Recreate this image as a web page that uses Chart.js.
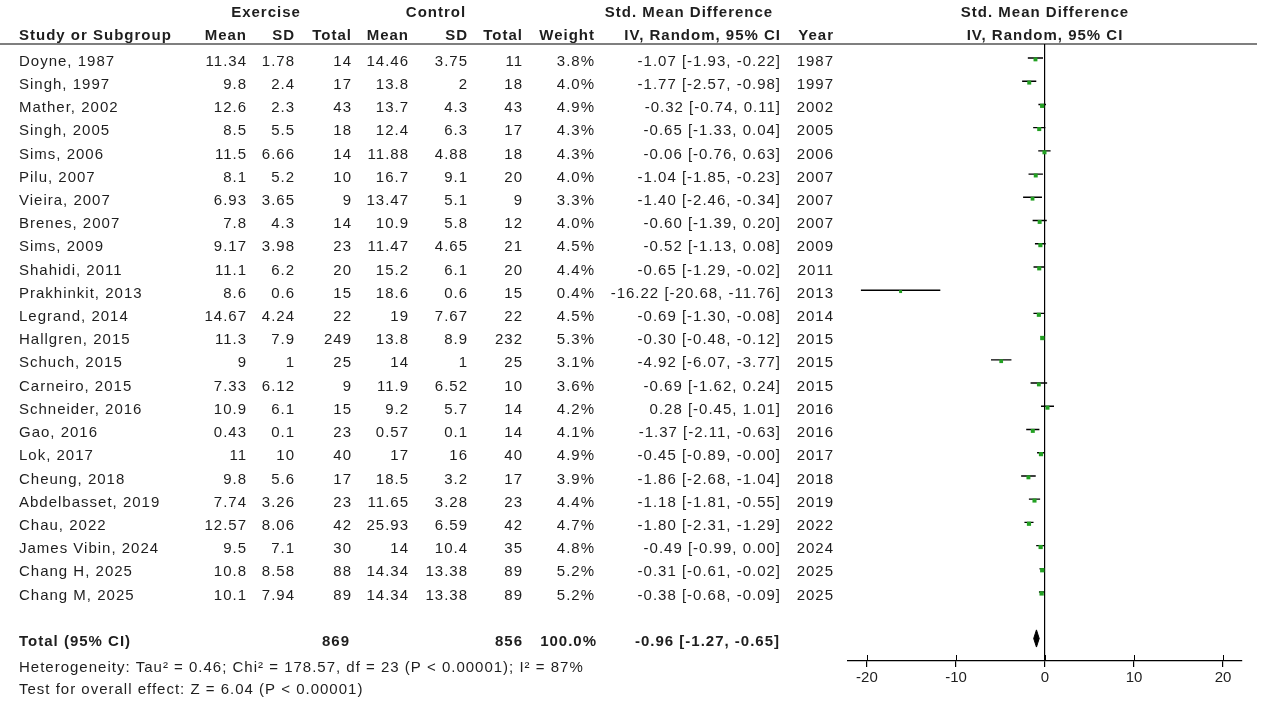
<!DOCTYPE html>
<html>
<head>
<meta charset="utf-8">
<title>Forest plot - Exercise vs Control</title>
<script src="https://cdn.jsdelivr.net/npm/chart.js@4.4.1/dist/chart.umd.min.js"></script>
<style>
  html, body { margin: 0; padding: 0; background: #fff; }
  #wrap { width: 1264px; height: 704px; position: relative; }
</style>
</head>
<body>
<div id="wrap"><canvas id="forest" width="1264" height="704"></canvas></div>
<script>
// study data
const studies = ['Doyne, 1987', 'Singh, 1997', 'Mather, 2002', 'Singh, 2005', 'Sims, 2006', 'Pilu, 2007',
  'Vieira, 2007', 'Brenes, 2007', 'Sims, 2009', 'Shahidi, 2011', 'Prakhinkit, 2013', 'Legrand, 2014',
  'Hallgren, 2015', 'Schuch, 2015', 'Carneiro, 2015', 'Schneider, 2016', 'Gao, 2016', 'Lok, 2017',
  'Cheung, 2018', 'Abdelbasset, 2019', 'Chau, 2022', 'James Vibin, 2024', 'Chang H, 2025', 'Chang M, 2025'];
const exMean = [11.34, 9.8, 12.6, 8.5, 11.5, 8.1, 6.93, 7.8, 9.17, 11.1, 8.6, 14.67, 11.3, 9, 7.33, 10.9, 0.43, 11, 9.8, 7.74, 12.57, 9.5, 10.8, 10.1];
const exSD = [1.78, 2.4, 2.3, 5.5, 6.66, 5.2, 3.65, 4.3, 3.98, 6.2, 0.6, 4.24, 7.9, 1, 6.12, 6.1, 0.1, 10, 5.6, 3.26, 8.06, 7.1, 8.58, 7.94];
const exN = [14, 17, 43, 18, 14, 10, 9, 14, 23, 20, 15, 22, 249, 25, 9, 15, 23, 40, 17, 23, 42, 30, 88, 89];
const ctMean = [14.46, 13.8, 13.7, 12.4, 11.88, 16.7, 13.47, 10.9, 11.47, 15.2, 18.6, 19, 13.8, 14, 11.9, 9.2, 0.57, 17, 18.5, 11.65, 25.93, 14, 14.34, 14.34];
const ctSD = [3.75, 2, 4.3, 6.3, 4.88, 9.1, 5.1, 5.8, 4.65, 6.1, 0.6, 7.67, 8.9, 1, 6.52, 5.7, 0.1, 16, 3.2, 3.28, 6.59, 10.4, 13.38, 13.38];
const ctN = [11, 18, 43, 17, 18, 20, 9, 12, 21, 20, 15, 22, 232, 25, 10, 14, 14, 40, 17, 23, 42, 35, 89, 89];
const weights = [3.8, 4.0, 4.9, 4.3, 4.3, 4.0, 3.3, 4.0, 4.5, 4.4, 0.4, 4.5, 5.3, 3.1, 3.6, 4.2, 4.1, 4.9, 3.9, 4.4, 4.7, 4.8, 5.2, 5.2];
const smd = [-1.07, -1.77, -0.32, -0.65, -0.06, -1.04, -1.40, -0.60, -0.52, -0.65, -16.22, -0.69, -0.30, -4.92, -0.69, 0.28, -1.37, -0.45, -1.86, -1.18, -1.80, -0.49, -0.31, -0.38];
const ciLow = [-1.93, -2.57, -0.74, -1.33, -0.76, -1.85, -2.46, -1.39, -1.13, -1.29, -20.68, -1.30, -0.48, -6.07, -1.62, -0.45, -2.11, -0.89, -2.68, -1.81, -2.31, -0.99, -0.61, -0.68];
const ciHigh = [-0.22, -0.98, 0.11, 0.04, 0.63, -0.23, -0.34, 0.20, 0.08, -0.02, -11.76, -0.08, -0.12, -3.77, 0.24, 1.01, -0.63, -0.00, -1.04, -0.55, -1.29, 0.00, -0.02, -0.09];
const years = [1987, 1997, 2002, 2005, 2006, 2007, 2007, 2007, 2009, 2011, 2013, 2014, 2015, 2015, 2015, 2016, 2016, 2017, 2018, 2019, 2022, 2024, 2025, 2025];

// pooled result
const totalN = [869, 856];
const pooled = [-0.96, -1.27, -0.65]; // estimate, low, high
const xTicks = [-20, -10, 0, 10, 20];
const heteroText = 'Heterogeneity: Tau\u00b2 = 0.46; Chi\u00b2 = 178.57, df = 23 (P < 0.00001); I\u00b2 = 87%';
const effectText = 'Test for overall effect: Z = 6.04 (P < 0.00001)';

const TOTAL_ROW = 25;
const FONT = '"Liberation Sans", Arial, sans-serif';
const INK = '#1e1e1e';
const TXT_DY = 3.5;

function fmt2(v) {
  const neg = v < 0 || Object.is(v, -0);
  return (neg ? '-' : '') + Math.abs(v).toFixed(2);
}
function ciText(e, l, h) {
  return fmt2(e) + ' [' + fmt2(l) + ', ' + fmt2(h) + ']';
}

// CI whiskers as one broken line
const ciPoints = [];
studies.forEach((s, i) => {
  ciPoints.push({ x: ciLow[i], y: i }, { x: ciHigh[i], y: i }, { x: ciHigh[i], y: null });
});

const diamondH = 0.37;
const diamond = [
  { x: pooled[1], y: TOTAL_ROW },
  { x: pooled[0], y: TOTAL_ROW - diamondH },
  { x: pooled[2], y: TOTAL_ROW },
  { x: pooled[0], y: TOTAL_ROW + diamondH },
  { x: pooled[1], y: TOTAL_ROW }
];

// table text drawn next to the plot, rows follow the y scale
const tablePlugin = {
  id: 'forestTable',
  afterDraw(chart) {
    const ctx = chart.ctx;
    const y = chart.scales.y;
    const x = chart.scales.x;
    const area = chart.chartArea;
    ctx.save();
    ctx.fillStyle = INK;
    ctx.textBaseline = 'middle';
    ctx.letterSpacing = '1px';

    const put = (txt, px, py, align, bold) => {
      ctx.font = (bold ? 'bold ' : '') + '15px ' + FONT;
      ctx.textAlign = align;
      ctx.fillText(txt, align === 'right' ? px + 1 : px, py);
    };

    // header
    put('Exercise', 266, 13, 'center', true);
    put('Control', 436, 13, 'center', true);
    put('Std. Mean Difference', 689, 13, 'center', true);
    put('Std. Mean Difference', x.getPixelForValue(0), 13, 'center', true);
    put('Study or Subgroup', 19, 36, 'left', true);
    put('Mean', 246, 36, 'right', true);
    put('SD', 294, 36, 'right', true);
    put('Total', 351, 36, 'right', true);
    put('Mean', 408, 36, 'right', true);
    put('SD', 467, 36, 'right', true);
    put('Total', 522, 36, 'right', true);
    put('Weight', 594, 36, 'right', true);
    put('IV, Random, 95% CI', 780, 36, 'right', true);
    put('Year', 833, 36, 'right', true);
    put('IV, Random, 95% CI', x.getPixelForValue(0), 36, 'center', true);

    // header rule
    ctx.strokeStyle = '#000';
    ctx.lineWidth = 1.2;
    ctx.beginPath();
    ctx.moveTo(0, area.top);
    ctx.lineTo(1257, area.top);
    ctx.stroke();

    studies.forEach((s, i) => {
      const py = y.getPixelForValue(i) + TXT_DY;
      put(s, 19, py, 'left');
      put(String(exMean[i]), 246, py, 'right');
      put(String(exSD[i]), 294, py, 'right');
      put(String(exN[i]), 351, py, 'right');
      put(String(ctMean[i]), 408, py, 'right');
      put(String(ctSD[i]), 467, py, 'right');
      put(String(ctN[i]), 522, py, 'right');
      put(weights[i].toFixed(1) + '%', 594, py, 'right');
      put(ciText(smd[i], ciLow[i], ciHigh[i]), 780, py, 'right');
      put(String(years[i]), 833, py, 'right');
    });

    const ty = y.getPixelForValue(TOTAL_ROW) + TXT_DY;
    put('Total (95% CI)', 19, ty, 'left', true);
    put(String(totalN[0]), 349, ty, 'right', true);
    put(String(totalN[1]), 522, ty, 'right', true);
    put('100.0%', 596, ty, 'right', true);
    put(ciText(pooled[0], pooled[1], pooled[2]), 779, ty, 'right', true);

    put(heteroText, 19, 668, 'left');
    put(effectText, 19, 690, 'left');

    // tick marks also reach above the axis line
    ctx.strokeStyle = '#000';
    ctx.lineWidth = 1;
    xTicks.forEach(v => {
      const px = Math.round(x.getPixelForValue(v)) + 0.5;
      ctx.beginPath();
      ctx.moveTo(px, area.bottom - 6);
      ctx.lineTo(px, area.bottom);
      ctx.stroke();
    });
    ctx.restore();
  }
};

Chart.defaults.font.family = FONT;
Chart.defaults.font.size = 15;
Chart.defaults.color = INK;

new Chart(document.getElementById('forest'), {
  type: 'scatter',
  data: {
    datasets: [
      {
        label: 'CI',
        data: ciPoints,
        showLine: true,
        spanGaps: false,
        borderColor: '#000',
        borderWidth: 1.4,
        pointRadius: 0,
        order: 2
      },
      {
        label: 'SMD',
        data: studies.map((s, i) => ({ x: smd[i], y: i + 0.06 })),
        pointStyle: 'rect',
        pointRadius: weights.map(w => 2 + w * 0.2),
        backgroundColor: '#22a022',
        borderColor: '#22a022',
        borderWidth: 0,
        order: 1
      },
      {
        label: 'Pooled',
        data: diamond,
        showLine: true,
        fill: 'shape',
        backgroundColor: '#000',
        borderColor: '#000',
        borderWidth: 1,
        pointRadius: 0,
        order: 0
      }
    ]
  },
  options: {
    responsive: false,
    animation: false,
    layout: { padding: { left: 848, right: 22, top: 44, bottom: 0 } },
    plugins: { legend: { display: false }, tooltip: { enabled: false } },
    scales: {
      x: {
        type: 'linear',
        min: -22.13,
        max: 22.13,
        afterBuildTicks: scale => { scale.ticks = xTicks.map(v => ({ value: v })); },
        afterFit: scale => { scale.height = 43; },
        border: { display: true, color: '#000', width: 1.2 },
        grid: {
          drawOnChartArea: true,
          color: c => (c.tick && c.tick.value === 0 ? '#000' : 'rgba(0,0,0,0)'),
          lineWidth: 1.2,
          tickColor: '#000',
          tickLength: 6
        },
        ticks: { color: INK, padding: 2, font: { size: 15 } }
      },
      y: {
        type: 'linear',
        display: false,
        reverse: true,
        min: -0.603,
        max: 25.97
      }
    }
  },
  plugins: [tablePlugin]
});
</script>
</body>
</html>
